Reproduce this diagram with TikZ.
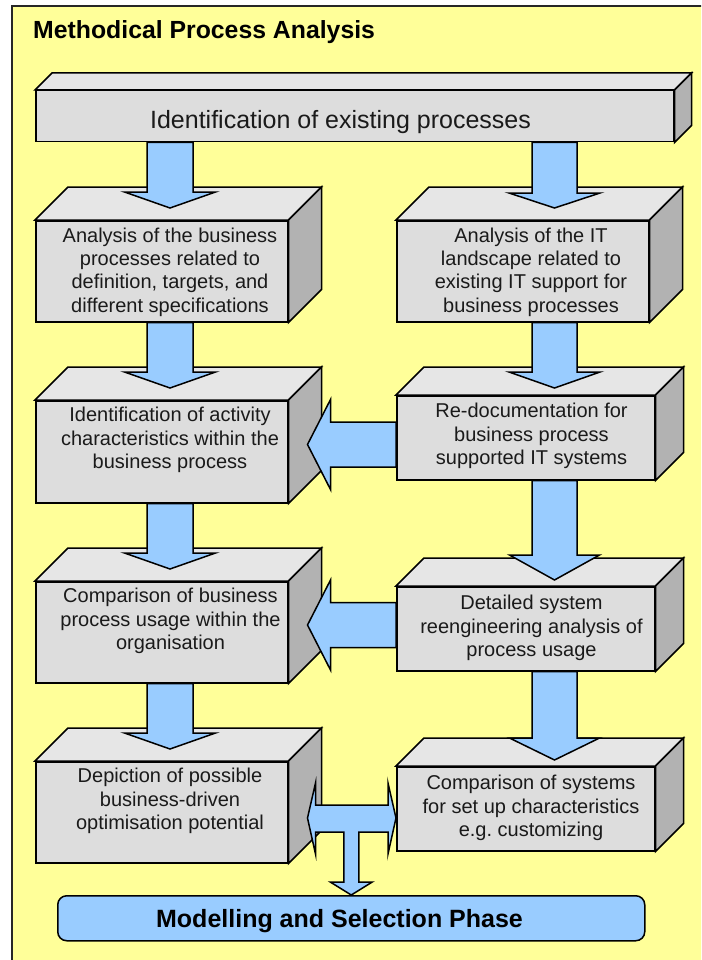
\documentclass[tikz,border=0pt]{standalone}
\usepackage{fontspec}
\setmainfont{Liberation Sans}
\frenchspacing
\usetikzlibrary{calc}
\definecolor{bgyellow}{HTML}{FFFF99}
\definecolor{frontgray}{HTML}{DDDDDD}
\definecolor{topgray}{HTML}{E6E6E6}
\definecolor{sidegray}{HTML}{B2B2B2}
\definecolor{arrowblue}{HTML}{99CCFF}
\definecolor{txt}{HTML}{1A1A1A}
\tikzset{
  face/.style={draw=black, line width=1.5pt, line join=miter},
  frontface/.style={face, fill=frontgray, rectangle, inner sep=0pt, anchor=north west},
  boxtext/.style={inner sep=0pt, align=center, text=txt, font=\fontsize{20}{23.3}\selectfont},
  arrowstyle/.style={draw=black, line width=1.5pt, fill=arrowblue, line join=miter},
}
% cube faces around a named front face: #1 name, #2 depth
\newcommand\cubefaces[2]{%
  \draw[face, fill=topgray] (#1.north west) -- ++(#2,-#2) -- ($(#1.north east)+(#2,-#2)$) -- (#1.north east) -- cycle;
  \draw[face, fill=sidegray] (#1.north east) -- ++(#2,-#2) -- ($(#1.south east)+(#2,-#2)$) -- (#1.south east) -- cycle;}
% down block arrow: #1 x centre, #2 source, #3 target, #4 head base above target, #5 tip above target, #6 half shaft, #7 half head
\newcommand\dnarrow[7]{%
  \draw[arrowstyle] let \p1=(#2.south), \p2=(#3.north) in
  ({(#1-#6)*1pt},\y1) -- ({(#1-#6)*1pt},{\y2+#4pt}) -- ({(#1-#7)*1pt},{\y2+#4pt}) --
  ({#1*1pt},{\y2+#5pt}) -- ({(#1+#7)*1pt},{\y2+#4pt}) -- ({(#1+#6)*1pt},{\y2+#4pt}) --
  ({(#1+#6)*1pt},\y1) -- cycle;}
% left block arrow: #1 source, #2 target, #3 centre y (px)
\newcommand\lfarrow[3]{%
  \draw[arrowstyle] let \p1=(#1.west), \p2=(#2.east) in
  (\x1,{(22.5-#3)*1pt}) -- ({\x2+42pt},{(22.5-#3)*1pt}) -- ({\x2+42pt},{(45-#3)*1pt}) --
  ({\x2+19pt},{-#3pt}) -- ({\x2+42pt},{(-45-#3)*1pt}) -- ({\x2+42pt},{(-22.5-#3)*1pt}) --
  (\x1,{(-22.5-#3)*1pt}) -- cycle;}
\begin{document}
\begin{tikzpicture}[x=1pt,y=-1pt]
\useasboundingbox (0,0) rectangle (701,960);
\clip (0,0) rectangle (701,960);
% frame
\draw[line width=1.5pt, draw=black!85, fill=bgyellow] (12,6) rectangle (740,1000);
\node[anchor=base west, inner sep=0pt, font=\fontsize{24.8}{28}\selectfont\bfseries] (title) at (33,39) {Methodical Process Analysis};

% top box
\node[frontface, minimum width=638, minimum height=51] (tb) at (35,90) {};
\cubefaces{tb}{17}

% left column
\node[frontface, minimum width=252, minimum height=101] (lb1) at (35,220) {};
\cubefaces{lb1}{33}
\node[frontface, minimum width=252, minimum height=102] (lb2) at (35,400) {};
\cubefaces{lb2}{33}
\node[frontface, minimum width=252, minimum height=101] (lb3) at (35,581) {};
\cubefaces{lb3}{33}
\node[frontface, minimum width=252, minimum height=101] (lb4) at (35,761) {};
\cubefaces{lb4}{33}

% right column
\node[frontface, minimum width=252, minimum height=101] (rb1) at (396,220) {};
\cubefaces{rb1}{33}
\node[frontface, minimum width=258, minimum height=84] (rb2) at (396,395) {};
\cubefaces{rb2}{28}
\node[frontface, minimum width=258, minimum height=84] (rb3) at (396,586) {};
\cubefaces{rb3}{28}
\node[frontface, minimum width=258, minimum height=84] (rb4) at (396,766) {};
\cubefaces{rb4}{28}

% bottom phase box
\node[draw=black, line width=1.5pt, fill=arrowblue, rounded corners=9pt, inner sep=0pt,
      anchor=north west, minimum width=587, minimum height=45] (msp) at (57,895) {};

% down arrows
\dnarrow{170}{tb}{lb1}{28}{12}{23}{45.5}
\dnarrow{554.5}{tb}{rb1}{27}{12}{22.5}{45.5}
\dnarrow{170}{lb1}{lb2}{28}{12}{23}{45.5}
\dnarrow{554.5}{rb1}{rb2}{23}{7}{22.5}{45.5}
\dnarrow{170}{lb2}{lb3}{28}{12}{23}{45.5}
\dnarrow{554.5}{rb2}{rb3}{31}{6}{22.5}{45}
\dnarrow{170}{lb3}{lb4}{28}{12}{23}{45.5}
\dnarrow{554.5}{rb3}{rb4}{28}{6}{22.5}{45}

% horizontal arrows
\lfarrow{rb2}{lb2}{444.5}
\lfarrow{rb3}{lb3}{625}

% T arrow to the phase box
\draw[arrowstyle] let \p1=(lb4.east), \p2=(rb4.west), \p3=(msp.north) in
  ({\x1+19pt},-818pt) -- ({\x1+27pt},-783pt) -- ({\x1+27pt},-805pt) -- ({\x2-8pt},-805pt) --
  ({\x2-8pt},-783pt) -- (\x2,-818pt) -- ({\x2-8pt},-854pt) -- ({\x2-8pt},-832pt) --
  ({\x3+7.5pt},-832pt) -- ({\x3+7.5pt},-882pt) -- ({\x3+21pt},-882pt) -- (\x3,\y3) --
  ({\x3-21pt},-882pt) -- ({\x3-7.5pt},-882pt) -- ({\x3-7.5pt},-832pt) -- ({\x1+27pt},-832pt) --
  ({\x1+27pt},-854pt) -- cycle;

% texts
\node[anchor=base, inner sep=0pt, text=txt, font=\fontsize{25}{28}\selectfont] (tbt) at (340.5,129) {Identification of existing processes};
\node[boxtext] (lb1t) at (170,272) {Analysis of the business\\processes related to\\definition, targets, and\\different specifications};
\node[boxtext] (rb1t) at (531,272) {Analysis of the IT\\landscape related to\\existing IT support for\\business processes};
\node[boxtext] (lb2t) at (170,440) {Identification of activity\\characteristics within the\\business process};
\node[boxtext] (rb2t) at (531.5,436) {Re-documentation for\\business process\\supported IT systems};
\node[boxtext] (lb3t) at (170.5,621) {Comparison of business\\process usage within the\\organisation};
\node[boxtext] (rb3t) at (531.5,628) {Detailed system\\reengineering analysis of\\process usage};
\node[boxtext] (lb4t) at (170,801) {Depiction of possible\\business-driven\\optimisation potential};
\node[boxtext] (rb4t) at (531,808) {Comparison of systems\\for set up characteristics\\e.g. customizing};
\node[anchor=base, inner sep=0pt, font=\fontsize{25}{28}\selectfont\bfseries] (mspt) at (339.5,927) {Modelling and Selection Phase};
\end{tikzpicture}
\end{document}
